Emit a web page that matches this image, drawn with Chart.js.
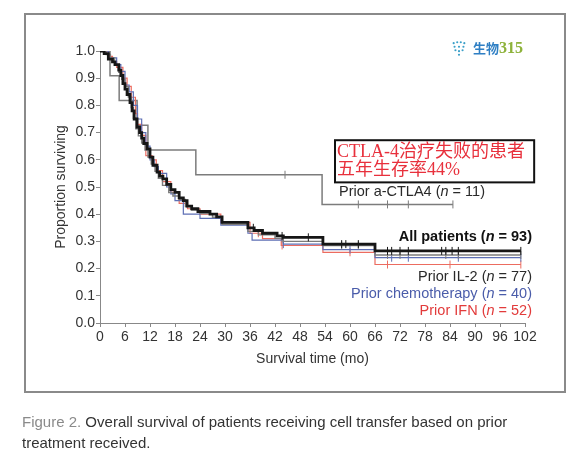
<!DOCTYPE html>
<html>
<head>
<meta charset="utf-8">
<script src="https://cdn.jsdelivr.net/npm/chart.js@4.4.0/dist/chart.umd.min.js"></script>
<style>
  body { margin: 0; background: #fff; width: 581px; height: 468px; position: relative; overflow: hidden; font-family: "Liberation Sans", Arial, sans-serif; }
  #frame { position: absolute; left: 24px; top: 13px; width: 538px; height: 376px; border: 2px solid #8a8a8a; }
  #wrap { position: absolute; left: 0; top: 0; width: 581px; height: 468px; }
  #caption { position: absolute; left: 22px; top: 411px; width: 545px; font-size: 15px; line-height: 21px; color: #333; }
  #caption .fig { color: #8a8a8a; }
  #logo { position: absolute; left: 451px; top: 38px; height: 20px; display: flex; align-items: center; white-space: nowrap; z-index: 2; }
  #logo svg { margin-right: 6px; }
  #logo .t1 { font: bold 13px "Noto Sans CJK SC", sans-serif; color: #2f7fc4; line-height: 16px; }
  #logo .t2 { font: bold 16px "Liberation Serif", serif; color: #8db23a; line-height: 16px; }
</style>
</head>
<body>
<div id="frame"></div>
<div id="wrap"><canvas id="km" width="581" height="468"></canvas></div>
<div id="logo">
  <svg width="16" height="17" viewBox="0 0 18 18">
    <g fill="#3a9fc8">
      <circle cx="3" cy="3" r="1.2"/><circle cx="7" cy="2" r="1.2"/><circle cx="11" cy="2" r="1.2"/><circle cx="15" cy="3" r="1.2"/>
      <circle cx="4" cy="7" r="1.2"/><circle cx="9" cy="7" r="1.2"/><circle cx="14" cy="7" r="1.2"/>
      <circle cx="5" cy="11" r="1.2"/><circle cx="9" cy="12" r="1.2"/><circle cx="13" cy="11" r="1.2"/>
      <circle cx="9" cy="16" r="1.2"/>
    </g>
  </svg>
  <span class="t1">生物</span><span class="t2">315</span>
</div>
<div id="caption"><span class="fig">Figure 2.</span> Overall survival of patients receiving cell transfer based on prior treatment received.</div>
<script>
// Kaplan-Meier steps (months, proportion surviving)
const xTickValues = [0, 6, 12, 18, 24, 30, 36, 42, 48, 54, 60, 66, 72, 78, 84, 90, 96, 102];
const yTickValues = [0, 0.1, 0.2, 0.3, 0.4, 0.5, 0.6, 0.7, 0.8, 0.9, 1.0];

const allTimes = [0, 1, 2, 3, 3.6, 4.5, 5, 5.5, 6, 6.5, 7.2, 7.7, 8.2, 8.9, 9.5, 10, 10.5, 11.3, 12, 12.7, 13.7, 14.3, 15.1, 16, 17, 18, 19, 20, 20.9, 22, 23.5, 26.4, 28, 29.3, 35.5, 37, 39, 42.5, 44, 53.5, 66, 101];
const allSurv = [1, 0.99, 0.97, 0.96, 0.95, 0.93, 0.91, 0.88, 0.86, 0.84, 0.81, 0.78, 0.75, 0.72, 0.70, 0.68, 0.66, 0.64, 0.61, 0.58, 0.555, 0.54, 0.53, 0.51, 0.49, 0.48, 0.46, 0.45, 0.43, 0.42, 0.41, 0.40, 0.39, 0.37, 0.35, 0.34, 0.33, 0.32, 0.315, 0.29, 0.265, 0.265];
const allCensor = [36.8, 43.7, 50, 58, 59, 62, 69, 70, 72, 74, 82, 83, 84.5, 86, 101];

const il2Times = [0, 1.5, 2.5, 3.5, 4.5, 5.2, 6, 6.8, 7.5, 8, 8.6, 9.2, 10, 10.8, 11.5, 12.3, 13.2, 14, 15, 16.5, 17.5, 19, 20.5, 22, 24, 27, 29.3, 35.5, 38, 42, 44, 53.5, 66, 101];
const il2Surv = [1, 0.987, 0.974, 0.948, 0.922, 0.896, 0.87, 0.831, 0.792, 0.753, 0.714, 0.688, 0.662, 0.636, 0.61, 0.584, 0.558, 0.532, 0.506, 0.48, 0.467, 0.454, 0.428, 0.415, 0.402, 0.389, 0.363, 0.337, 0.324, 0.311, 0.30, 0.285, 0.25, 0.25];
const il2Censor = [43.7, 58, 62, 69, 72, 83, 86, 101];

const chemoTimes = [0, 2, 4, 5, 6, 7, 8, 9, 10, 11, 12, 13, 14, 16, 17, 18, 20, 24, 29, 35.5, 36.5, 44, 53.5, 66, 101];
const chemoSurv = [1, 0.975, 0.95, 0.925, 0.875, 0.85, 0.80, 0.75, 0.70, 0.65, 0.60, 0.575, 0.55, 0.50, 0.475, 0.45, 0.40, 0.385, 0.36, 0.33, 0.305, 0.29, 0.27, 0.24, 0.24];
const chemoCensor = [44, 60, 70, 74, 86, 101];

const ifnTimes = [0, 2, 3, 4, 5.5, 6.5, 7.5, 8.5, 9, 10, 11, 12.5, 13.5, 15, 17, 19, 21, 24, 29, 36, 39, 43.5, 53.5, 66, 101];
const ifnSurv = [1, 0.98, 0.96, 0.94, 0.90, 0.87, 0.83, 0.77, 0.73, 0.69, 0.615, 0.60, 0.56, 0.52, 0.48, 0.44, 0.42, 0.40, 0.37, 0.33, 0.31, 0.285, 0.26, 0.215, 0.215];
const ifnCensor = [38, 43.7, 60, 69, 84, 101];

const ctlaTimes = [0, 2.4, 4.6, 8.9, 11.5, 23, 53.3, 84.7];
const ctlaSurv = [1, 0.909, 0.818, 0.727, 0.636, 0.545, 0.436, 0.436];
const ctlaCensor = [44.4, 62, 69, 74, 84.7];

const BLACK = '#161616', GRAY = '#7c7c7c', BLUE = '#5d6fb5', RED = '#ec6c60';

// survival value in force at time t (step function)
function survAt(times, surv, t) {
    let v = surv[0];
    for (let i = 0; i < times.length; i++) if (times[i] <= t) v = surv[i];
    return v;
}

function curve(times, surv, color, width) {
    return {
        type: 'line',
        data: times.map((t, i) => ({ x: t, y: surv[i] })),
        borderColor: color,
        borderWidth: width,
        stepped: true,
        pointRadius: 0,
        fill: false
    };
}

function censors(times, surv, censor, color) {
    return {
        type: 'scatter',
        data: censor.map(t => ({ x: t, y: survAt(times, surv, t) })),
        pointStyle: 'line',
        rotation: 90,
        pointRadius: 4,
        borderColor: color,
        borderWidth: 1,
        backgroundColor: color
    };
}

const seriesLabels = [
    { parts: ['All patients (', 'n', ' = 93)'], month: 102, surv: 0.316, dx: 7, bold: true, color: '#111' },
    { parts: ['Prior IL-2 (', 'n', ' = 77)'], month: 102, surv: 0.169, dx: 7, bold: false, color: '#2a2a2a' },
    { parts: ['Prior chemotherapy (', 'n', ' = 40)'], month: 102, surv: 0.107, dx: 7, bold: false, color: '#4a5caa' },
    { parts: ['Prior IFN (', 'n', ' = 52)'], month: 102, surv: 0.045, dx: 7, bold: false, color: '#e23b3b' },
    { parts: ['Prior a-CTLA4 (', 'n', ' = 11)'], month: 92.4, surv: 0.48, dx: 0, bold: false, color: '#2a2a2a' }
];
const noteLines = ['CTLA-4治疗失败的患者', '五年生存率44%'];

const labelPlugin = {
    id: 'kmLabels',
    afterDraw(chart) {
        const { ctx, scales: { x, y } } = chart;
        ctx.save();
        ctx.textBaseline = 'middle';
        seriesLabels.forEach(l => {
            const size = 14.5;
            const fonts = l.parts.map((p, i) => (i === 1 ? 'italic ' : '') + (l.bold ? 'bold ' : '') + size + 'px "Liberation Sans", Arial, sans-serif');
            let total = 0;
            l.parts.forEach((p, i) => { ctx.font = fonts[i]; total += ctx.measureText(p).width; });
            let px = x.getPixelForValue(l.month) + l.dx - total;
            const py = y.getPixelForValue(l.surv);
            ctx.fillStyle = l.color;
            ctx.textAlign = 'left';
            l.parts.forEach((p, i) => { ctx.font = fonts[i]; ctx.fillText(p, px, py); px += ctx.measureText(p).width; });
        });

        // boxed Chinese note
        const bx0 = x.getPixelForValue(56.4), bx1 = x.getPixelForValue(104.2);
        const by0 = y.getPixelForValue(0.672), by1 = y.getPixelForValue(0.517);
        ctx.fillStyle = '#fff';
        ctx.fillRect(bx0, by0, bx1 - bx0, by1 - by0);
        ctx.strokeStyle = '#111';
        ctx.lineWidth = 2;
        ctx.strokeRect(bx0, by0, bx1 - bx0, by1 - by0);
        ctx.fillStyle = '#e8303c';
        ctx.font = '18px "Liberation Serif", "Noto Sans CJK SC", serif';
        ctx.textAlign = 'left';
        ctx.fillText(noteLines[0], bx0 + 2, by0 + 12);
        ctx.fillText(noteLines[1], bx0 + 2, by0 + 30);
        ctx.restore();
    }
};

const tickFont = { family: '"Liberation Sans", Arial, sans-serif', size: 14 };

new Chart(document.getElementById('km'), {
    data: {
        datasets: [
            curve(allTimes, allSurv, BLACK, 2.8),
            censors(allTimes, allSurv, allCensor, BLACK),
            curve(il2Times, il2Surv, GRAY, 1.4),
            censors(il2Times, il2Surv, il2Censor, GRAY),
            curve(chemoTimes, chemoSurv, BLUE, 1.2),
            censors(chemoTimes, chemoSurv, chemoCensor, BLUE),
            curve(ifnTimes, ifnSurv, RED, 1.2),
            censors(ifnTimes, ifnSurv, ifnCensor, RED),
            curve(ctlaTimes, ctlaSurv, GRAY, 1.5),
            censors(ctlaTimes, ctlaSurv, ctlaCensor, GRAY)
        ]
    },
    options: {
        responsive: false,
        animation: false,
        events: [],
        layout: { padding: { left: 50, right: 56, top: 51, bottom: 100 } },
        plugins: { legend: { display: false }, tooltip: { enabled: false } },
        scales: {
            x: {
                type: 'linear', min: 0, max: 102,
                afterFit: s => { s.height = 45; },
                afterBuildTicks: s => { s.ticks = xTickValues.map(v => ({ value: v })); },
                ticks: { font: tickFont, color: '#333', padding: 2, maxRotation: 0, autoSkip: false },
                grid: { drawOnChartArea: false, drawTicks: true, tickLength: 4, color: '#888' },
                border: { color: '#888', width: 1 },
                title: { display: true, text: 'Survival time (mo)', font: tickFont, color: '#333', padding: { top: 0, bottom: 0 } }
            },
            y: {
                type: 'linear', min: 0, max: 1,
                afterFit: s => { s.width = 50; },
                afterBuildTicks: s => { s.ticks = yTickValues.map(v => ({ value: v })); },
                ticks: { font: tickFont, color: '#333', padding: 1, callback: v => v.toFixed(1) },
                grid: { drawOnChartArea: false, drawTicks: true, tickLength: 4, color: '#888' },
                border: { color: '#888', width: 1 },
                title: { display: true, text: 'Proportion surviving', font: tickFont, color: '#333', padding: { top: 3, bottom: 0 } }
            }
        }
    },
    plugins: [labelPlugin]
});
</script>
</body>
</html>
